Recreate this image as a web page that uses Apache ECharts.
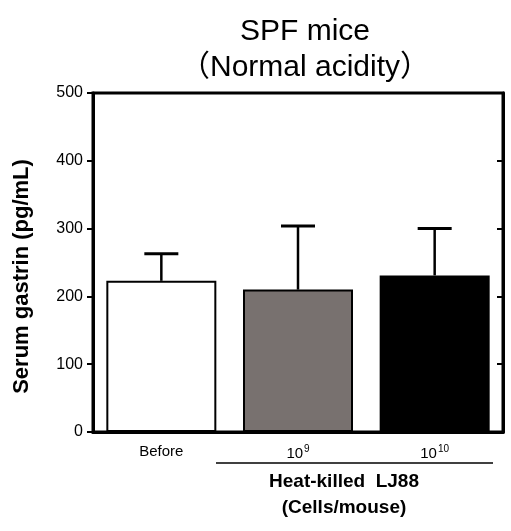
<!DOCTYPE html>
<html>
<head>
<meta charset="utf-8">
<script src="https://cdn.jsdelivr.net/npm/echarts@6/dist/echarts.min.js"></script>
<style>
  html, body { margin: 0; padding: 0; background: #fff; }
  #main { width: 511px; height: 531px; }
</style>
</head>
<body>
<div id="main"></div>
<script>
// data
var categories = ['Before', '10^9', '10^10'];
var means = [223, 210, 231];
var upperErr = [263, 304, 300];
var barColors = ['#ffffff', '#78716f', '#000000'];
var yTicks = [0, 100, 200, 300, 400, 500];

var FONT = 'Arial, "Liberation Sans", "Noto Sans CJK JP", sans-serif';

var myChart = echarts.init(document.getElementById('main'), null, { renderer: 'canvas' });

var option = {
	backgroundColor: '#fff',
	animation: false,
	title: {
		text: 'SPF mice\n（Normal acidity）',
		left: 300,
		top: 9,
		textAlign: 'center',
		textStyle: {
			fontFamily: FONT,
			fontSize: 30,
			fontWeight: 'normal',
			color: '#000',
			lineHeight: 36
		}
	},
	grid: {
		left: 93,
		right: 8,
		top: 93,
		bottom: 99,
		show: true,
		borderColor: '#000',
		borderWidth: 3
	},
	xAxis: [{
		type: 'category',
		data: categories,
		axisLine: { lineStyle: { color: '#000', width: 3 } },
		axisTick: { inside: true, length: 6, lineStyle: { color: '#000', width: 3 } },
		axisLabel: {
			margin: 12,
			fontFamily: FONT,
			fontSize: 15,
			color: '#000',
			formatter: function (v) {
				if (v.indexOf('^') > -1) {
					var p = v.split('^');
					return '{b|' + p[0] + '}{s|' + p[1] + '}';
				}
				return '{b|' + v + '}';
			},
			rich: {
				b: { fontFamily: FONT, fontSize: 15, color: '#000' },
				s: { fontFamily: FONT, fontSize: 10, color: '#000', verticalAlign: 'top', padding: [0, 0, 10, 1] }
			}
		}
	}],
	yAxis: [{
		type: 'value',
		min: 0,
		max: 500,
		interval: 100,
		position: 'left',
		splitLine: { show: false },
		axisLine: { show: true, lineStyle: { color: '#000', width: 3 } },
		axisTick: { show: true, length: 6, lineStyle: { color: '#000', width: 2 } },
		axisLabel: {
			margin: 10,
			fontFamily: FONT,
			fontSize: 16,
			color: '#000',
			customValues: yTicks
		},
		name: 'Serum gastrin (pg/mL)',
		nameLocation: 'middle',
		nameGap: 60,
		nameTextStyle: {
			fontFamily: FONT,
			fontSize: 22,
			fontWeight: 'bold',
			color: '#000',
			padding: [0, 0, 0, -28]
		}
	}, {
		type: 'value',
		min: 0,
		max: 500,
		interval: 100,
		position: 'right',
		splitLine: { show: false },
		axisLine: { show: true, lineStyle: { color: '#000', width: 3 } },
		axisTick: { show: true, inside: true, length: 6, lineStyle: { color: '#000', width: 2 } },
		axisLabel: { show: false }
	}],
	series: [{
		type: 'bar',
		data: means.map(function (v, i) {
			return {
				value: v,
				itemStyle: {
					color: barColors[i],
					borderColor: '#000',
					borderWidth: 2
				}
			};
		}),
		barWidth: 110,
		z: 2
	}, {
		// error bars
		type: 'custom',
		data: upperErr.map(function (v, i) { return [i, means[i], v]; }),
		z: 3,
		renderItem: function (params, api) {
			var base = api.coord([api.value(0), api.value(1)]);
			var top = api.coord([api.value(0), api.value(2)]);
			var half = 17;
			return {
				type: 'group',
				children: [{
					type: 'line',
					shape: { x1: base[0], y1: base[1], x2: top[0], y2: top[1] },
					style: { stroke: '#000', lineWidth: 2.5 }
				}, {
					type: 'line',
					shape: { x1: top[0] - half, y1: top[1], x2: top[0] + half, y2: top[1] },
					style: { stroke: '#000', lineWidth: 3 }
				}]
			};
		}
	}],
	graphic: [{
		type: 'line',
		shape: { x1: 216, y1: 463, x2: 493, y2: 463 },
		style: { stroke: '#000', lineWidth: 1.5 }
	}, {
		type: 'text',
		x: 344,
		y: 495,
		style: {
			text: 'Heat-killed  LJ88\n(Cells/mouse)',
			fontFamily: FONT,
			fontSize: 19,
			fontWeight: 'bold',
			fill: '#000',
			align: 'center',
			verticalAlign: 'middle',
			lineHeight: 26
		}
	}]
};

myChart.setOption(option);
</script>
</body>
</html>
